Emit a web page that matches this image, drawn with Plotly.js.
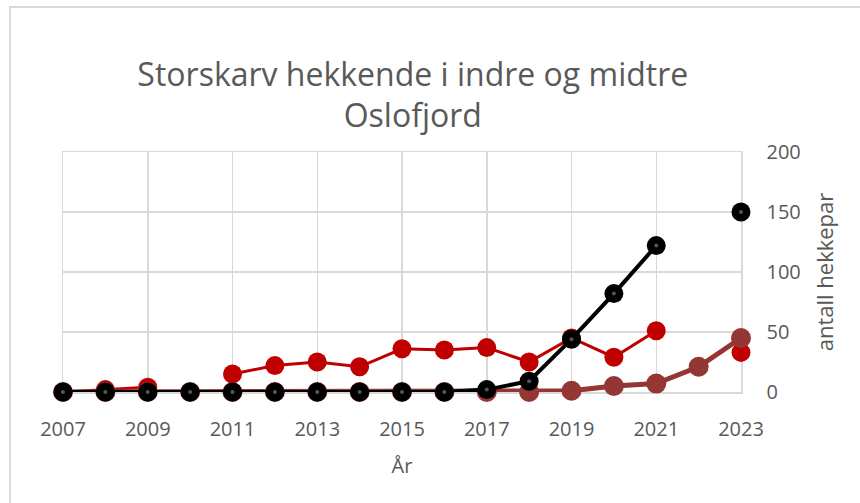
<!DOCTYPE html>
<html><head><meta charset="utf-8">
<script src="https://cdn.plot.ly/plotly-3.0.1.min.js"></script>
<style>
html,body{margin:0;padding:0;background:#fff;}
#wrap{position:relative;width:860px;height:503px;}
#frame{position:absolute;left:9px;top:6px;width:900px;height:600px;border-left:2px solid #d9d9d9;border-top:2px solid #d9d9d9;pointer-events:none;}
</style></head>
<body><div id="wrap"><div id="chart" style="width:860px;height:503px;"></div><div id="frame"></div></div>
<script>
const years = [2007,2008,2009,2010,2011,2012,2013,2014,2015,2016,2017,2018,2019,2020,2021,2022,2023];
const seriesRed   = [0,2,4,null,15,22,25,21,36,35,37,25,45,29,51,null,33];
const seriesBrown = [0,0,0,0,0,0,0,0,0,0,0,0,1,5,7,21,45];
const seriesBlack = [0,0,0,0,0,0,0,0,0,0,2,9,44,82,122,null,150];
const xTicks = [2007,2009,2011,2013,2015,2017,2019,2021,2023];
const yTicks = [0,50,100,150,200];
const titleText = "Storskarv hekkende i indre og midtre<br>Oslofjord";
const xTitle = "År";
const yTitle = "antall hekkepar";

const font = "Open Sans, Noto Sans, sans-serif";
const traces = [
  {x: years, y: seriesRed, mode: 'lines+markers', line:{color:'#c00000', width:3},
   marker:{color:'#c00000', size:19}, connectgaps:false, cliponaxis:false},
  {x: years, y: seriesBrown, mode: 'lines+markers', line:{color:'#943634', width:5},
   marker:{color:'#943634', size:20}, connectgaps:false, cliponaxis:false},
  {x: years, y: seriesBlack, mode: 'lines+markers', line:{color:'#000000', width:4},
   marker:{color:'#000000', size:19}, connectgaps:false, cliponaxis:false},
  {x: years, y: seriesBlack, mode: 'markers', marker:{color:'#555555', size:4}, hoverinfo:'skip', cliponaxis:false}
];
const layout = {
  width: 860, height: 503,
  margin: {l:63, r:119, t:152, b:111},
  paper_bgcolor:'#ffffff', plot_bgcolor:'#ffffff',
  showlegend:false,
  title: {text: titleText, font:{family:font, size:32, color:'#595959'}, x:0.48, xanchor:'center',
          yref:'container', y:0.83, yanchor:'top'},
  xaxis: {range:[2007,2023], tickvals:xTicks, ticktext:xTicks.map(String), showgrid:true, gridcolor:'#d9d9d9', gridwidth:1.5,
          zeroline:false, showline:true, mirror:true, linecolor:'#d9d9d9', linewidth:1.5, ticks:'', ticklabelstandoff:18,
          layer:'below traces',
          tickfont:{family:font, size:20, color:'#595959'},
          title:{text:xTitle, font:{family:font, size:20, color:'#595959'}, standoff:18}},
  yaxis: {side:'right', range:[0,200], tickvals:yTicks, showgrid:true, gridcolor:'#d9d9d9', gridwidth:1.5,
          zeroline:false, showline:true, mirror:true, linecolor:'#d9d9d9', linewidth:1.5, ticks:'', ticklabelstandoff:20,
          layer:'below traces',
          tickfont:{family:font, size:20, color:'#595959'},
          title:{text:yTitle, font:{family:font, size:22, color:'#595959'}, standoff:18}},
};
Plotly.newPlot('chart', traces, layout, {displayModeBar:false, staticPlot:true});
</script></body></html>
